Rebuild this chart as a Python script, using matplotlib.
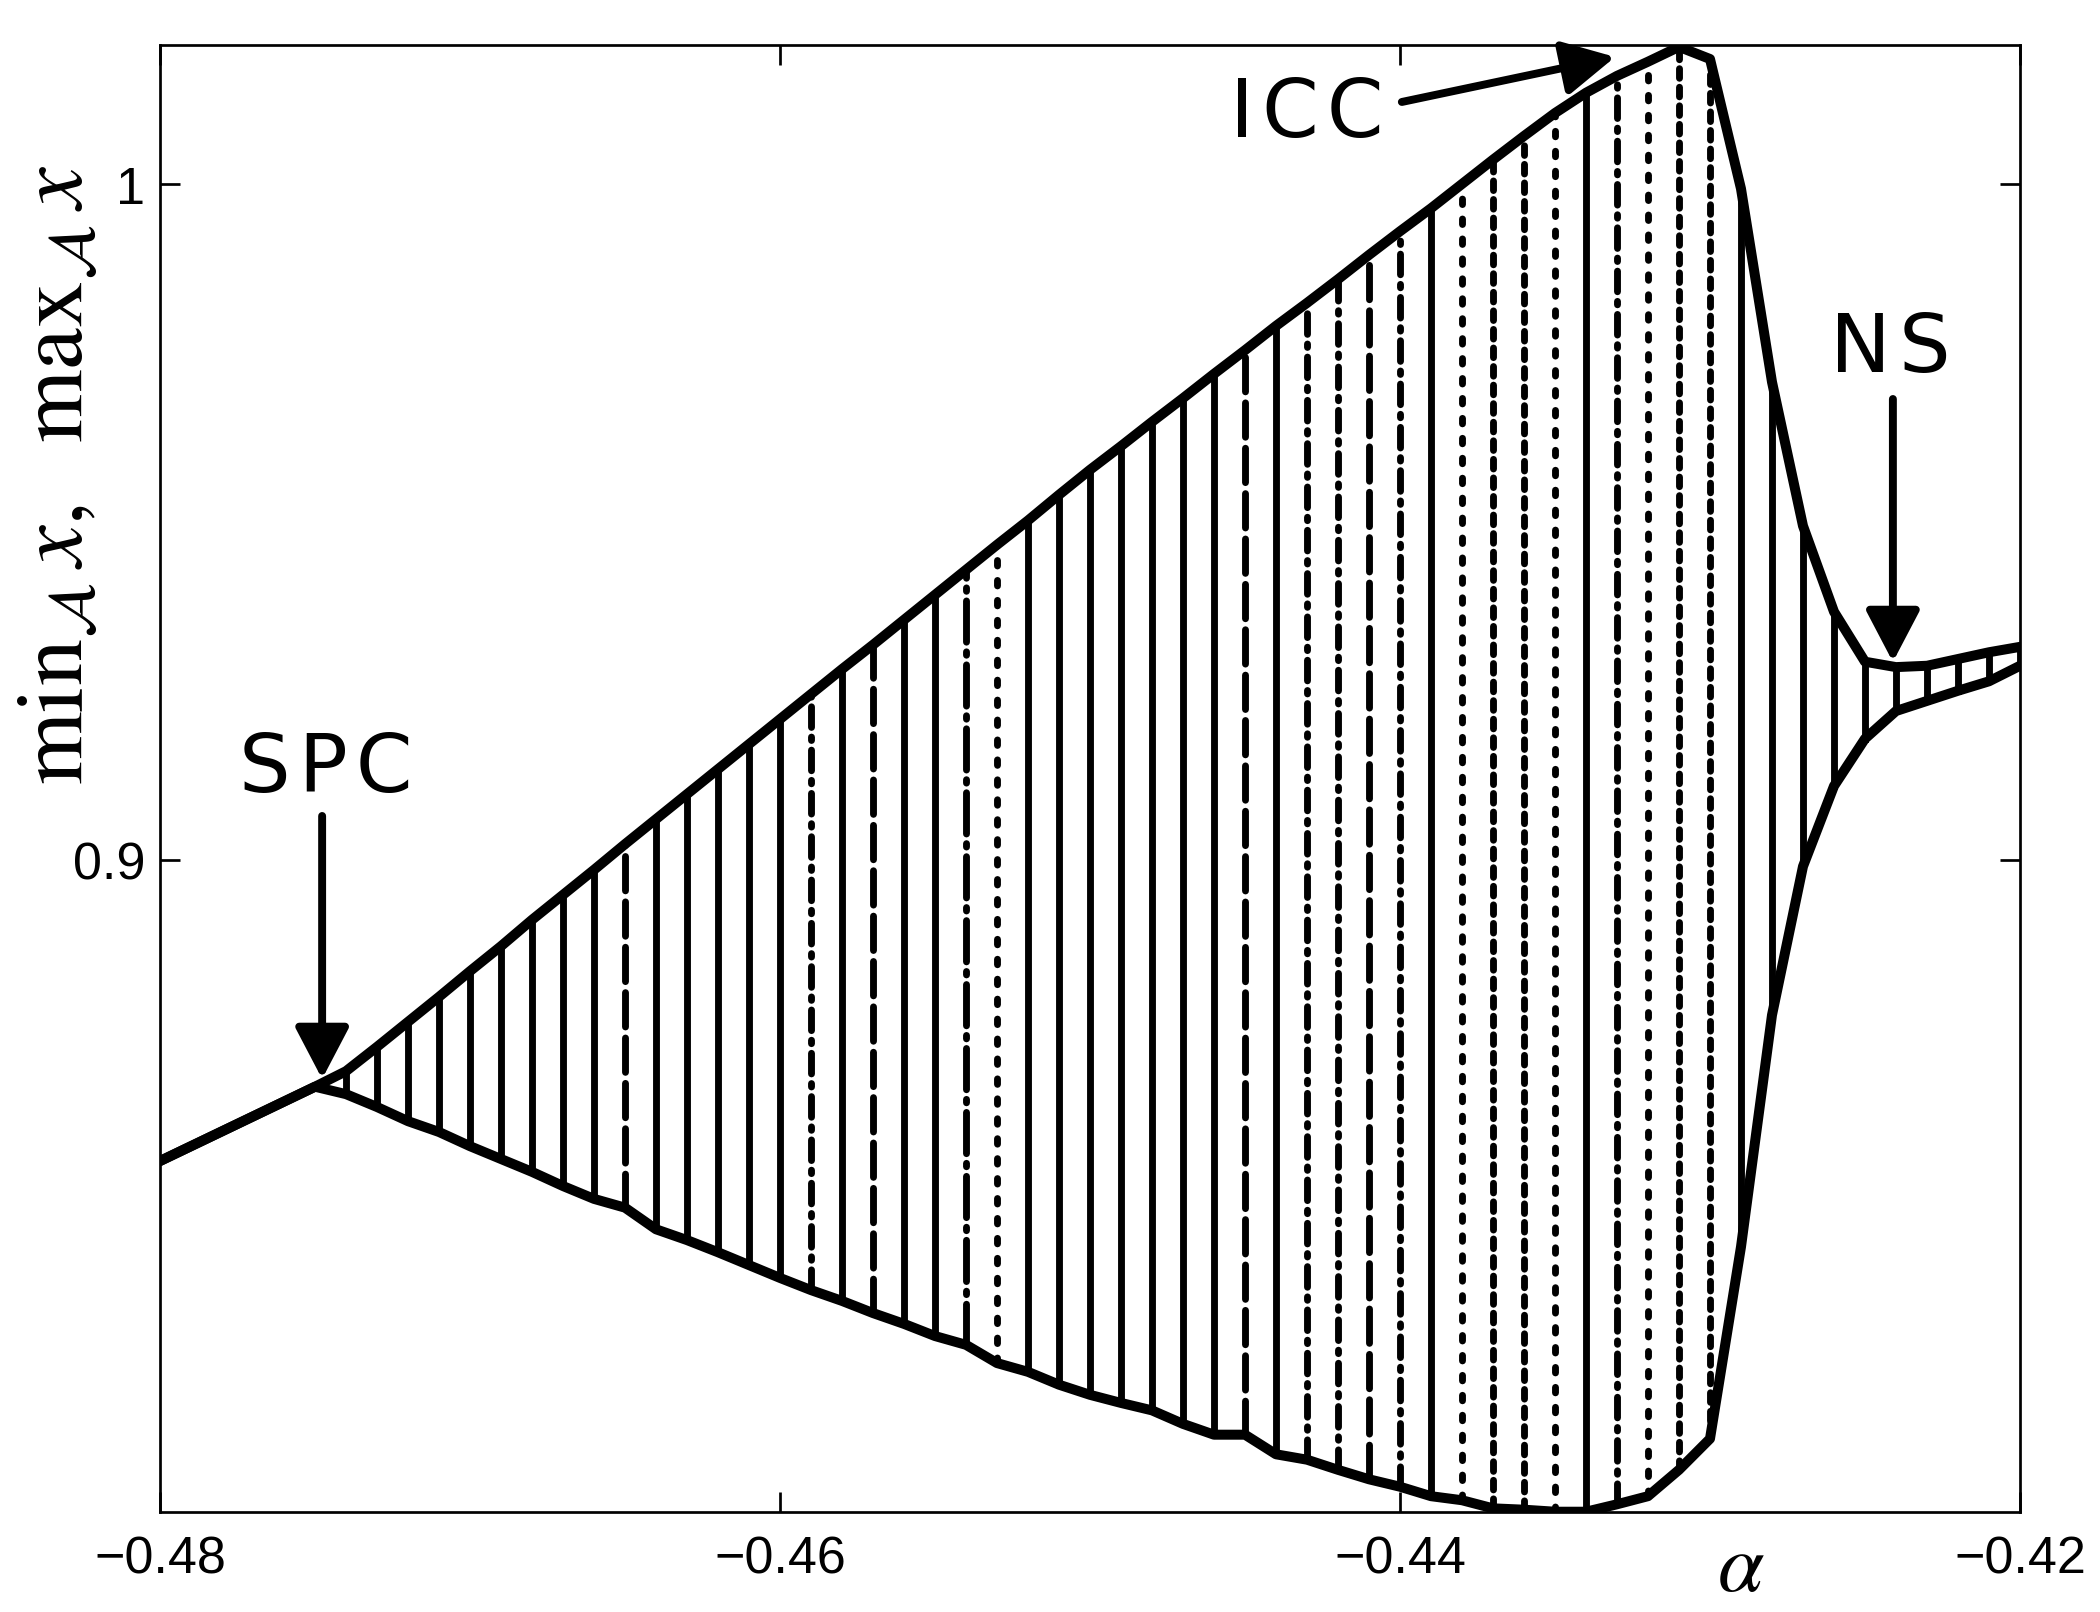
import matplotlib
matplotlib.use('Agg')
import matplotlib.pyplot as plt

# bifurcation parameter (the two first points are the fixed-point branch before SPC)
alpha = [-0.480, -0.475,
         -0.474, -0.473, -0.472, -0.471, -0.470, -0.469, -0.468, -0.467, -0.466, -0.465,
         -0.464, -0.463, -0.462, -0.461, -0.460, -0.459, -0.458, -0.457, -0.456, -0.455,
         -0.454, -0.453, -0.452, -0.451, -0.450, -0.449, -0.448, -0.447, -0.446, -0.445,
         -0.444, -0.443, -0.442, -0.441, -0.440, -0.439, -0.438, -0.437, -0.436, -0.435,
         -0.434, -0.433, -0.432, -0.431, -0.430, -0.429, -0.428, -0.427, -0.426, -0.425,
         -0.424, -0.423, -0.422, -0.421, -0.420]

x_max = [0.8554, 0.8664,
         0.8687, 0.8723, 0.8760, 0.8797, 0.8835, 0.8872, 0.8911, 0.8948, 0.8985, 0.9023,
         0.9060, 0.9097, 0.9134, 0.9171, 0.9208, 0.9245, 0.9282, 0.9318, 0.9355, 0.9392,
         0.9429, 0.9466, 0.9502, 0.9540, 0.9577, 0.9612, 0.9648, 0.9683, 0.9719, 0.9754,
         0.9790, 0.9824, 0.9859, 0.9895, 0.9930, 0.9964, 1.0000, 1.0036, 1.0071, 1.0105,
         1.0135, 1.0160, 1.0181, 1.0203, 1.0185, 0.9993, 0.9707, 0.9494, 0.9367, 0.9293,
         0.9285, 0.9287, 0.9297, 0.9307, 0.9315]

x_min = [0.8554, 0.8664,
         0.8653, 0.8634, 0.8613, 0.8597, 0.8576, 0.8557, 0.8538, 0.8517, 0.8498, 0.8485,
         0.8453, 0.8437, 0.8419, 0.8400, 0.8381, 0.8363, 0.8347, 0.8329, 0.8313, 0.8295,
         0.8282, 0.8255, 0.8242, 0.8223, 0.8208, 0.8196, 0.8185, 0.8165, 0.8149, 0.8149,
         0.8120, 0.8112, 0.8097, 0.8083, 0.8072, 0.8058, 0.8052, 0.8040, 0.8038, 0.8035,
         0.8035, 0.8046, 0.8058, 0.8097, 0.8143, 0.8427, 0.8770, 0.8990, 0.9109, 0.9179,
         0.9220, 0.9235, 0.9250, 0.9264, 0.9287]

xticks = [-0.48, -0.46, -0.44, -0.42]
xticklabels = ['\u22120.48', '\u22120.46', '\u22120.44', '\u22120.42']
yticks = [0.9, 1.0]
yticklabels = ['0.9', '1']

# how the attractor points look at each alpha (everything else is drawn solid)
look = {-0.465: 'long', -0.459: 'dashdot', -0.457: 'long', -0.454: 'longdot',
        -0.453: 'dot', -0.445: 'long', -0.443: 'dashdot', -0.442: 'dashdot',
        -0.441: 'long', -0.440: 'dashdot', -0.438: 'dot', -0.437: 'dense',
        -0.436: 'dense', -0.435: 'dot', -0.433: 'dashdot', -0.432: 'dot',
        -0.431: 'dense', -0.430: 'dense'}
dashes = {'solid': '-',
          'long': (0, (5, 1.6)),
          'dashdot': (0, (3, 1.4, 0.5, 1.4)),
          'longdot': (0, (6, 1.4, 0.5, 1.4)),
          'dot': (0, (0.8, 2.1)),
          'dense': (0, (1.4, 1.3))}

fig = plt.figure(figsize=(14, 10.7533), dpi=150)
ax = fig.add_axes([0.07619, 0.06200, 0.88571, 0.90948])

# vertical hatching: one segment per alpha from min to max
for a, lo, hi in zip(alpha[2:], x_min[2:], x_max[2:]):
    kind = look.get(round(a, 3), 'solid')
    ax.plot([a, a], [lo, hi], color='k', lw=3.3, linestyle=dashes[kind],
            dash_capstyle='round', zorder=2)

ax.plot(alpha, x_max, color='k', lw=4.8, zorder=3)
ax.plot(alpha, x_min, color='k', lw=4.8, zorder=3)

ax.set_xlim(-0.48, -0.42)
ax.set_ylim(0.80346, 1.02057)
ax.set_xticks(xticks)
ax.set_xticklabels(xticklabels)
ax.set_yticks(yticks)
ax.set_yticklabels(yticklabels)
ax.tick_params(direction='in', length=9.5, width=1.3, top=True, right=True,
               labelsize=25)
ax.tick_params(axis='x', pad=11)
ax.tick_params(axis='y', pad=7)
for lab in ax.get_xticklabels() + ax.get_yticklabels():
    lab.set_family('Liberation Sans')
for sp in ax.spines.values():
    sp.set_linewidth(1.3)

plt.rcParams['mathtext.fontset'] = 'stix'
fig.text(0.0270, 0.7055, r'$\mathrm{min}_{\mathcal{A}}\,x,\ \ \mathrm{max}_{\mathcal{A}}\,x$',
         rotation=90, ha='center', va='center', size=45)
fig.text(0.829, 0.0285, r'$\alpha$', ha='center', va='center', size=40)

# labels with arrows (letters spaced out a little, like the original lettering)
arrow = dict(arrowstyle='-|>,head_length=1.05,head_width=0.55', lw=3.8,
             color='k', shrinkA=0, shrinkB=0, mutation_scale=20)
lab_font = dict(size=39, family='DejaVu Sans', ha='center', va='baseline')
gap = '\u200a'

ax.annotate('', xy=(-0.47477, 0.86755), xytext=(-0.47477, 0.90647),
            arrowprops=arrow, zorder=5)
ax.text(-0.47465, 0.91017, gap.join('SPC'), **lab_font)

ax.annotate('', xy=(-0.42410, 0.92926), xytext=(-0.42410, 0.96818),
            arrowprops=arrow, zorder=5)
ax.text(-0.42419, 0.97233, gap.join('NS'), **lab_font)

ax.annotate('', xy=(-0.43306, 1.01880), xytext=(-0.43994, 1.01214),
            arrowprops=arrow, zorder=5, annotation_clip=False)
ax.text(-0.44300, 1.0071, gap.join('ICC'), **lab_font)

fig.savefig('out.png', dpi=150)
